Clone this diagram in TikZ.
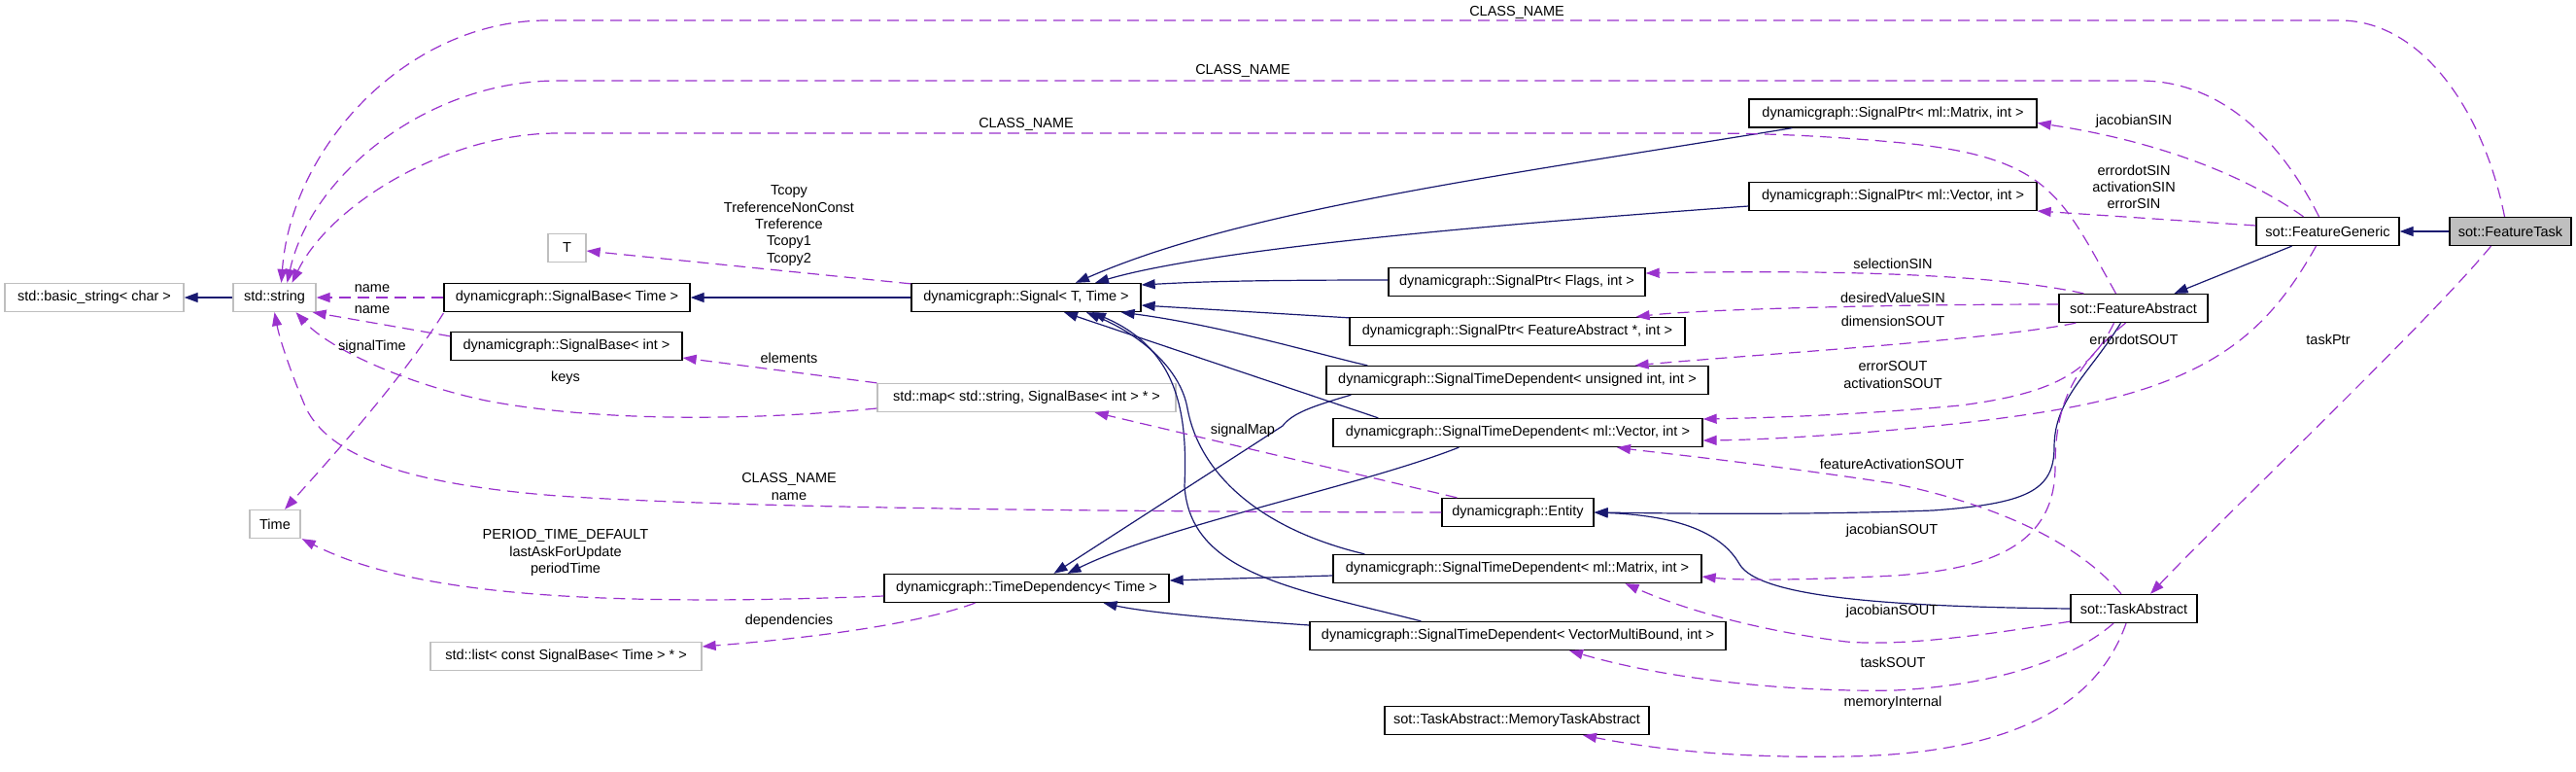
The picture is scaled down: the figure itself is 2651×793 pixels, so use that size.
\documentclass[tikz,border=0pt]{standalone}
\usepackage{fontspec}
\setmainfont{Liberation Sans}
\usetikzlibrary{arrows.meta,calc}
\definecolor{inhblue}{HTML}{191970}
\definecolor{usepurple}{HTML}{9A32CD}
\definecolor{undocgray}{HTML}{BFBFBF}

\begin{document}
\begin{tikzpicture}[x=1pt,y=-1pt,
        cls/.style={draw=black, line width=1.3pt, minimum height=29pt, inner sep=0pt, font=\fontsize{14.5}{17.3}\selectfont},
        ext/.style={cls, draw=undocgray},
        lbl/.style={font=\fontsize{14.5}{17.3}\selectfont, align=center, inner sep=0pt},
        inh/.style={draw=inhblue, line width=1.2pt, -{Triangle[length=14pt,width=10pt]}},
        use/.style={draw=usepurple, line width=1.2pt, dash pattern=on 12pt off 7pt, -{Triangle[length=14pt,width=10pt]}}]

        \useasboundingbox (0,0) rectangle (2651,793);

        % Define and draw the classes
        \node[ext, minimum width=184pt] (bstr) at (97,306) {std::basic\_string< char >};
        \node[ext, minimum width=85pt] (str) at (282.5,306) {std::string};
        \node[cls, minimum width=253pt] (sigbaseT) at (583.5,306) {dynamicgraph::SignalBase< Time >};
        \node[ext, minimum width=39pt] (tparam) at (583.5,255) {T};
        \node[cls, minimum width=238pt] (sigbaseI) at (583,356) {dynamicgraph::SignalBase< int >};
        \node[ext, minimum width=52pt] (time) at (283,539) {Time};
        \node[ext, minimum width=279pt] (stdlist) at (582.5,675) {std::list< const SignalBase< Time > * >};
        \node[cls, minimum width=236pt] (signal) at (1056,306) {dynamicgraph::Signal< T, Time >};
        \node[ext, minimum width=307pt] (stdmap) at (1056.5,409) {std::map< std::string, SignalBase< int > * >};
        \node[cls, minimum width=293pt] (timedep) at (1056.5,605) {dynamicgraph::TimeDependency< Time >};
        \node[cls, minimum width=296pt] (sptrM) at (1948,116.5) {dynamicgraph::SignalPtr< ml::Matrix, int >};
        \node[cls, minimum width=296pt] (sptrV) at (1948,202) {dynamicgraph::SignalPtr< ml::Vector, int >};
        \node[cls, minimum width=264pt] (sptrF) at (1561,290) {dynamicgraph::SignalPtr< Flags, int >};
        \node[cls, minimum width=345pt] (sptrFA) at (1561.5,341) {dynamicgraph::SignalPtr< FeatureAbstract *, int >};
        \node[cls, minimum width=393pt] (stdU) at (1561.5,391) {dynamicgraph::SignalTimeDependent< unsigned int, int >};
        \node[cls, minimum width=380pt] (stdV) at (1562,445) {dynamicgraph::SignalTimeDependent< ml::Vector, int >};
        \node[cls, minimum width=156pt] (entity) at (1562,527) {dynamicgraph::Entity};
        \node[cls, minimum width=379pt] (stdM) at (1561.5,585) {dynamicgraph::SignalTimeDependent< ml::Matrix, int >};
        \node[cls, minimum width=428pt] (stdVMB) at (1562,654) {dynamicgraph::SignalTimeDependent< VectorMultiBound, int >};
        \node[cls, minimum width=272pt] (memtask) at (1561,741) {sot::TaskAbstract::MemoryTaskAbstract};
        \node[cls, minimum width=147pt] (fgen) at (2395.5,238) {sot::FeatureGeneric};
        \node[cls, fill=undocgray, minimum width=125pt] (ftask) at (2583.5,238) {sot::FeatureTask};
        \node[cls, minimum width=153pt] (fabs) at (2195.5,317) {sot::FeatureAbstract};
        \node[cls, minimum width=130pt] (tabs) at (2196,626) {sot::TaskAbstract};

        % Inheritance arrows
        \draw[inh] (str.west) -- (bstr.east);
        \draw[inh] (signal.west) -- (sigbaseT.east);
        \draw[inh] ($(sptrM.south west)+(45,0)$) .. controls (1550,180) and (1280,215) .. ($(signal.north)+(51,0)$);
        \draw[inh] ($(sptrV.west)+(0,10)$) .. controls (1550,230) and (1250,255) .. ($(signal.north)+(71,0)$);
        \draw[inh] ($(sptrF.west)+(0,-2)$) .. controls (1280,288) and (1230,290) .. ($(signal.east)+(0,-13)$);
        \draw[inh] ($(sptrFA.north west)+(0,1)$) -- ($(signal.east)+(0,8)$);
        \draw[inh] ($(stdU.north west)+(43,0)$) .. controls (1370,368) and (1260,335) .. ($(signal.south east)+(-21,0)$);
        \draw[inh] ($(stdV.north west)+(47,0)$) -- ($(signal.south)+(39,0)$);
        \draw[inh] ($(stdM.north west)+(33,0)$) .. controls (1300,545) and (1235,490) .. (1222,420) .. controls (1215,380) and (1175,345) .. ($(signal.south)+(62,0)$);
        \draw[inh] ($(stdVMB.north west)+(115,0)$) .. controls (1330,605) and (1225,590) .. (1219,500) .. controls (1222,430) and (1215,360) .. ($(signal.south)+(68,0)$);
        \draw[inh] ($(stdU.south west)+(26,0)$) .. controls (1350,418) and (1330,425) .. (1320,438) -- ($(timedep.north)+(28,0)$);
        \draw[inh] ($(stdV.south west)+(130,0)$) .. controls (1400,500) and (1200,540) .. ($(timedep.north)+(42,0)$);
        \draw[inh] ($(stdM.west)+(0,7)$) -- ($(timedep.east)+(0,-8)$);
        \draw[inh] ($(stdVMB.west)+(0,-11)$) .. controls (1260,637) and (1180,630) .. ($(timedep.south)+(79,0)$);
        \draw[inh] (ftask.west) -- (fgen.east);
        \draw[inh] ($(fgen.south)+(-37,0)$) -- ($(fabs.north)+(42,0)$);
        \draw[inh] ($(fabs.south)+(-13,0)$) .. controls (2150,385) and (2114,410) .. (2114,460) .. controls (2114,505) and (2085,518) .. (1989,525) .. controls (1850,530) and (1720,528) .. (entity.east);
        \draw[inh] (tabs.west) .. controls (1950,624) and (1810,615) .. (1790,580) .. controls (1770,545) and (1720,530) .. (entity.east);

        % Usage arrows
        \draw[use] ($(ftask.north)+(-6,0)$) .. controls (2555,110) and (2490,21) .. (2408,21) -- (563,21) .. controls (420,21) and (300,150) .. ($(str.north)+(7,0)$);
        \draw[use] ($(fgen.north)+(-9,0)$) .. controls (2350,150) and (2290,83) .. (2202,83) -- (574,83) .. controls (440,83) and (320,180) .. ($(str.north)+(13,0)$);
        \draw[use] ($(fabs.north)+(-18,0)$) .. controls (2120,200) and (2110,160) .. (1947,146) .. controls (1880,140) and (1820,137) .. (1750,137) -- (574,137) .. controls (460,137) and (340,210) .. ($(str.north)+(18,0)$);
        \draw[use] (sigbaseT.west) -- (str.east);
        \draw[use] ($(sigbaseI.north west)+(0,5)$) -- ($(str.south east)+(-4,0)$);
        \draw[use] ($(stdmap.west)+(0,11)$) .. controls (780,432) and (620,435) .. (500,412) .. controls (420,395) and (340,360) .. ($(str.south)+(22,0)$);
        \draw[use] ($(sigbaseT.south west)+(0,1)$) .. controls (420,380) and (360,450) .. ($(time.north)+(10,0)$);
        \draw[use] (stdmap.north west) -- ($(sigbaseI.east)+(0,12)$);
        \draw[use] ($(signal.north west)+(0,1)$) -- ($(tparam.east)+(0,3)$);
        \draw[use] ($(entity.north west)+(16,0)$) -- ($(stdmap.south)+(70,0)$);
        \draw[use] (entity.west) .. controls (1100,526) and (750,522) .. (574,510) .. controls (420,498) and (340,470) .. (315,420) .. controls (300,385) and (288,350) .. (str.south);
        \draw[use] ($(timedep.west)+(0,8)$) .. controls (600,625) and (420,610) .. ($(time.south east)+(1,0)$);
        \draw[use] ($(timedep.south)+(-53,0)$) .. controls (950,640) and (850,655) .. ($(stdlist.east)+(0,-10)$);
        \draw[use] ($(fgen.north)+(-25,0)$) .. controls (2310,180) and (2220,145) .. ($(sptrM.east)+(0,10)$);
        \draw[use] ($(fgen.west)+(0,-6)$) -- ($(sptrV.east)+(0,15)$);
        \draw[use] ($(fabs.north west)+(26,0)$) .. controls (2060,283) and (1900,277) .. ($(sptrF.east)+(0,-9)$);
        \draw[use] ($(fabs.west)+(0,-4)$) .. controls (1950,313) and (1750,318) .. ($(sptrFA.north east)+(-51,0)$);
        \draw[use] ($(fabs.south west)+(18,0)$) .. controls (2050,350) and (1800,365) .. ($(stdU.north east)+(-76,0)$);
        \draw[use] ($(fabs.south)+(-20,0)$) .. controls (2150,385) and (2110,405) .. (2017,417) .. controls (1900,428) and (1800,430) .. ($(stdV.east)+(0,-14)$);
        \draw[use] ($(fabs.south)+(-8,0)$) .. controls (2130,380) and (2115,420) .. (2115,480) .. controls (2115,560) and (2050,585) .. (1950,592) .. controls (1850,597) and (1790,597) .. ($(stdM.east)+(0,8)$);
        \draw[use] ($(fgen.south)+(-12,0)$) .. controls (2340,330) and (2290,385) .. (2150,415) .. controls (2050,437) and (1850,452) .. ($(stdV.east)+(0,8)$);
        \draw[use] ($(tabs.north)+(-13,0)$) .. controls (2140,560) and (2060,520) .. (1947,497) .. controls (1800,475) and (1700,465) .. ($(stdV.south)+(102,0)$);
        \draw[use] ($(ftask.south)+(-20,0)$) .. controls (2500,330) and (2300,520) .. ($(tabs.north)+(17,0)$);
        \draw[use] ($(tabs.south west)+(0,-2)$) .. controls (2050,652) and (1960,665) .. (1900,660) .. controls (1820,650) and (1740,630) .. ($(stdM.south)+(111,0)$);
        \draw[use] ($(tabs.south)+(-21,0)$) .. controls (2130,680) and (2050,705) .. (1950,710) .. controls (1850,712) and (1720,700) .. ($(stdVMB.south)+(53,0)$);
        \draw[use] ($(tabs.south)+(-8,0)$) .. controls (2160,720) and (2080,775) .. (1900,778) .. controls (1780,780) and (1700,770) .. ($(memtask.south)+(68,0)$);

        % Member names on the arrows
        \node[lbl] (lclsA) at (1561,13) {CLASS\_NAME};
        \node[lbl] (lclsB) at (1279,73) {CLASS\_NAME};
        \node[lbl] (lclsC) at (1056,128) {CLASS\_NAME};
        \node[lbl] (ltcopy) at (812,232) {Tcopy\\TreferenceNonConst\\Treference\\Tcopy1\\Tcopy2};
        \node[lbl] (lnameA) at (383,297) {name};
        \node[lbl] (lnameB) at (383,319) {name};
        \node[lbl] (lsigtime) at (383,357) {signalTime};
        \node[lbl] (lelem) at (812,368) {elements};
        \node[lbl] (lkeys) at (582,389) {keys};
        \node[lbl] (lsigmap) at (1279,443) {signalMap};
        \node[lbl] (lentname) at (812,500.5) {CLASS\_NAME\\name};
        \node[lbl] (lperiod) at (582,568.5) {PERIOD\_TIME\_DEFAULT\\lastAskForUpdate\\periodTime};
        \node[lbl] (ldeps) at (812,639) {dependencies};
        \node[lbl] (ljacin) at (2196,125) {jacobianSIN};
        \node[lbl] (lerrin) at (2196,192.5) {errordotSIN\\activationSIN\\errorSIN};
        \node[lbl] (lselin) at (1948,271) {selectionSIN};
        \node[lbl] (ldesin) at (1948,306) {desiredValueSIN};
        \node[lbl] (ldimout) at (1948,330) {dimensionSOUT};
        \node[lbl] (lerrdot) at (2196,349) {errordotSOUT};
        \node[lbl] (ltaskptr) at (2396,349) {taskPtr};
        \node[lbl] (lerrout) at (1948,385.5) {errorSOUT\\activationSOUT};
        \node[lbl] (lfeatact) at (1947,477) {featureActivationSOUT};
        \node[lbl] (ljacA) at (1947,546) {jacobianSOUT};
        \node[lbl] (ljacB) at (1947,629) {jacobianSOUT};
        \node[lbl] (ltasksout) at (1948,681) {taskSOUT};
        \node[lbl] (lmem) at (1948,723) {memoryInternal};
\end{tikzpicture}
\end{document}
